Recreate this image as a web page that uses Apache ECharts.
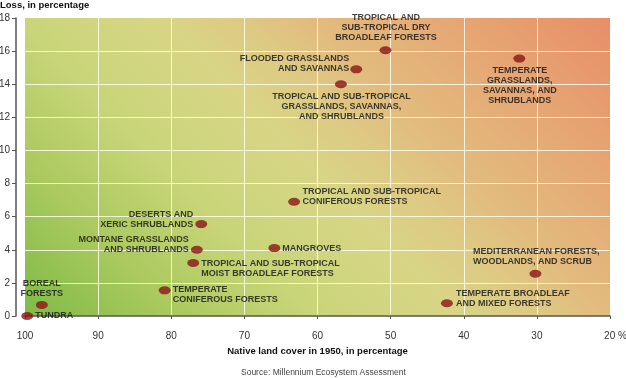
<!DOCTYPE html>
<html>
<head>
<meta charset="utf-8">
<script src="https://cdn.jsdelivr.net/npm/echarts@6/dist/echarts.min.js"></script>
<style>html,body{margin:0;padding:0;background:#fff}#c{width:626px;height:378px}</style>
</head>
<body>
<div id="c"></div>
<script>
// Biomes
var biomes = [
  'TUNDRA',
  'BOREAL\nFORESTS',
  'TEMPERATE\nCONIFEROUS FORESTS',
  'TROPICAL AND SUB-TROPICAL\nMOIST BROADLEAF FORESTS',
  'MONTANE GRASSLANDS\nAND SHRUBLANDS',
  'DESERTS AND\nXERIC SHRUBLANDS',
  'MANGROVES',
  'TROPICAL AND SUB-TROPICAL\nCONIFEROUS FORESTS',
  'TEMPERATE BROADLEAF\nAND MIXED FORESTS',
  'MEDITERRANEAN FORESTS,\nWOODLANDS, AND SCRUB',
  'TROPICAL AND\nSUB-TROPICAL DRY\nBROADLEAF FORESTS',
  'FLOODED GRASSLANDS\nAND SAVANNAS',
  'TROPICAL AND SUB-TROPICAL\nGRASSLANDS, SAVANNAS,\nAND SHRUBLANDS',
  'TEMPERATE\nGRASSLANDS,\nSAVANNAS, AND\nSHRUBLANDS'
];
// Native land cover in 1950 (%)
var nativeCover = [99.7, 97.7, 80.9, 77.0, 76.5, 75.9, 65.9, 63.2, 42.3, 30.2, 50.7, 54.7, 56.8, 32.4];
// Loss (%)
var loss = [0.0, 0.67, 1.55, 3.2, 4.0, 5.55, 4.1, 6.9, 0.77, 2.55, 16.05, 14.9, 14.0, 15.55];
// Axis ticks
var xTicks = [100, 90, 80, 70, 60, 50, 40, 30, 20];
var yTicks = [0, 2, 4, 6, 8, 10, 12, 14, 16, 18];

// Label placement (offset from the point, text alignment) -- layout only
var labelPlacement = [
  [8, 0, 'left'],
  [0, -16, 'center'],
  [8, 4.5, 'left'],
  [8, 5.5, 'left'],
  [-8, -5, 'right'],
  [-8, -5, 'right'],
  [8, 0, 'left'],
  [8.5, -5, 'left'],
  [9, -4.5, 'left'],
  [-62.5, -17.5, 'left'],
  [0.5, -23, 'center'],
  [-7, -6, 'right'],
  [0.5, 22.5, 'center'],
  [0.5, 26.5, 'center']
];

var data = biomes.map(function (n, i) {
  return {name: n, value: [nativeCover[i], loss[i]]};
});

var chart = echarts.init(document.getElementById('c'), null, {renderer: 'canvas'});
chart.setOption({
  animation: false,
  title: [
    {text: 'Loss, in percentage', left: 0, top: 0, padding: 0,
     textStyle: {fontFamily: 'Liberation Sans, Arial', fontSize: 9.5, fontWeight: 'bold', color: '#111'}},
    {text: 'Source: Millennium Ecosystem Assessment', left: 241, top: 368, padding: 0,
     textStyle: {fontFamily: 'Liberation Sans, Arial', fontSize: 8.5, fontWeight: 'normal', color: '#444'}}
  ],
  grid: {
    left: 25, right: 16, top: 18, bottom: 62,
    outerBoundsMode: 'none',
    containLabel: false,
    show: true, borderWidth: 0,
    backgroundColor: new echarts.graphic.LinearGradient(0, 1, 1, -0.963, [
      {offset: 0, color: '#7fbb46'},
      {offset: 0.13, color: '#aac95e'},
      {offset: 0.25, color: '#c9d579'},
      {offset: 0.37, color: '#d8d586'},
      {offset: 0.44, color: '#dec983'},
      {offset: 0.5, color: '#e2bb7e'},
      {offset: 0.62, color: '#e6a674'},
      {offset: 0.755, color: '#e88e68'},
      {offset: 1, color: '#e88466'}
    ])
  },
  xAxis: {
    type: 'value', inverse: true, min: 20, max: 100, interval: 10,
    offset: 10,
    name: 'Native land cover in 1950, in percentage',
    nameLocation: 'middle', nameGap: 19,
    nameTextStyle: {fontFamily: 'Liberation Sans, Arial', fontSize: 9.5, fontWeight: 'bold', color: '#111'},
    axisLine: {show: true, lineStyle: {color: '#555', width: 1.5}},
    axisTick: {show: true, length: 3, lineStyle: {color: '#555'}},
    axisLabel: {
      margin: 5, fontFamily: 'Liberation Sans, Arial', fontSize: 10, color: '#333',
      formatter: function (v) { return v === xTicks[xTicks.length - 1] ? '{p|' + v + ' %}' : String(v); },
      rich: {p: {padding: [0, 0, 0, 11], fontFamily: 'Liberation Sans, Arial', fontSize: 10, color: '#333'}}
    },
    splitLine: {show: true, showMinLine: false, showMaxLine: false, lineStyle: {color: 'rgba(255,255,240,0.85)', width: 1}}
  },
  yAxis: {
    type: 'value', min: yTicks[0], max: yTicks[yTicks.length - 1], interval: 2,
    offset: 9,
    axisLine: {show: true, lineStyle: {color: '#555', width: 1.5}},
    axisTick: {show: true, length: 4, lineStyle: {color: '#555'}},
    axisLabel: {margin: 6, fontFamily: 'Liberation Sans, Arial', fontSize: 10, color: '#333'},
    splitLine: {show: true, showMinLine: false, showMaxLine: false, lineStyle: {color: 'rgba(255,255,240,0.85)', width: 1}}
  },
  series: [{
    type: 'scatter',
    symbol: 'circle',
    symbolSize: [12, 8],
    itemStyle: {color: '#8a1515'},
    label: {
      show: true,
      position: 'inside',
      formatter: '{b}',
      fontFamily: 'Liberation Sans, Arial',
      fontSize: 9,
      fontWeight: 'bold',
      lineHeight: 10,
      color: '#111'
    },
    labelLayout: function (p) {
      var l = labelPlacement[p.dataIndex];
      return {
        x: p.rect.x + p.rect.width / 2 + l[0],
        y: p.rect.y + p.rect.height / 2 + l[1],
        align: l[2],
        verticalAlign: 'middle',
        hideOverlap: false
      };
    },
    data: data
  }]
});
</script>
</body>
</html>
